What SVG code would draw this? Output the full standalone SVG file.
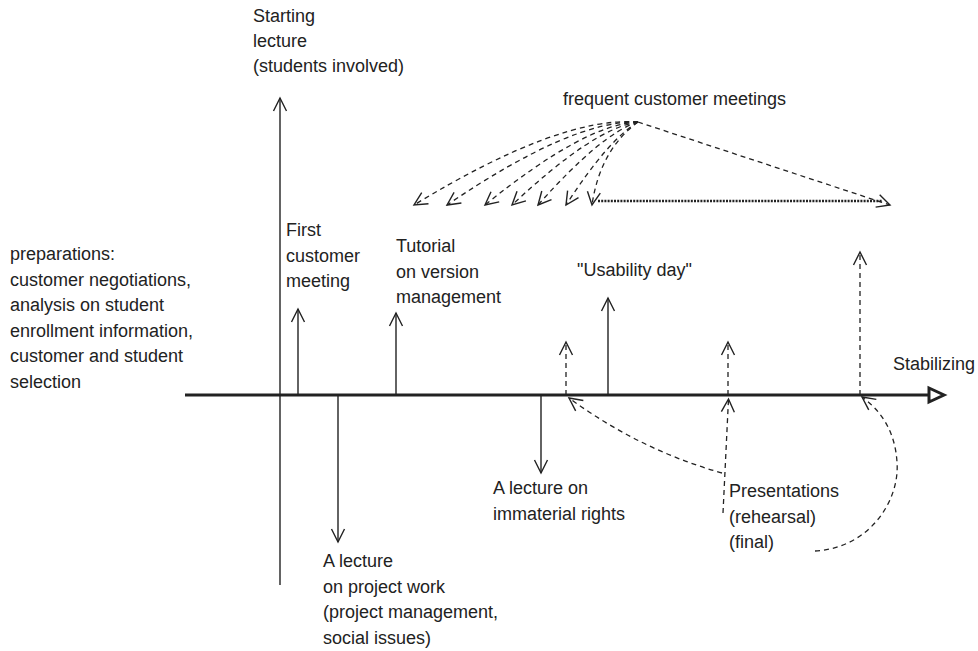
<svg xmlns="http://www.w3.org/2000/svg" width="978" height="651" viewBox="0 0 978 651">
  <style>
    text { font-family: "Liberation Sans", Arial, Helvetica, sans-serif; font-size: 18px; fill: #222; }
    .solid { fill: none; stroke: #222; stroke-width: 1.4; }
    .dash { fill: none; stroke: #222; stroke-width: 1.3; stroke-dasharray: 5 4; }
    .axis { fill: none; stroke: #222; stroke-width: 3; }
    .dots { fill: none; stroke: #222; stroke-width: 2.6; stroke-dasharray: 2 1.2; }
  </style>
  <defs>
    <marker id="vee" viewBox="-1 -1 16 16" refX="13" refY="7" markerWidth="16" markerHeight="16" orient="auto" markerUnits="userSpaceOnUse">
      <path d="M0,0.5 L13,7 L0,13.5" fill="none" stroke="#222" stroke-width="1.4"/>
    </marker>
  </defs>

  <!-- time axis -->
  <g id="axis">
    <line class="axis" x1="185" y1="395" x2="929" y2="395"/>
    <polygon points="929,388 944,395 929,402" fill="#fff" stroke="#222" stroke-width="3" stroke-linejoin="miter"/>
    <text x="893" y="370">Stabilizing</text>
  </g>

  <!-- left-hand preparations text -->
  <g id="preparations">
    <text x="10" y="260">preparations:</text>
    <text x="10" y="285.5">customer negotiations,</text>
    <text x="10" y="311">analysis on student</text>
    <text x="10" y="336.5">enrollment information,</text>
    <text x="10" y="362">customer and student</text>
    <text x="10" y="387.5">selection</text>
  </g>

  <g id="starting-lecture">
    <text x="253" y="22">Starting</text>
    <text x="253" y="47">lecture</text>
    <text x="253" y="72">(students involved)</text>
  </g>

  <g id="first-meeting">
    <text x="286" y="236">First</text>
    <text x="286" y="261.5">customer</text>
    <text x="286" y="287">meeting</text>
  </g>

  <g id="tutorial">
    <text x="396" y="252">Tutorial</text>
    <text x="396" y="277.5">on version</text>
    <text x="396" y="303">management</text>
  </g>

  <g id="usability-day">
    <text x="577" y="276">"Usability day"</text>
  </g>

  <g id="frequent-meetings">
    <text x="563" y="105">frequent customer meetings</text>
  </g>

  <g id="project-work-lecture">
    <text x="323" y="567">A lecture</text>
    <text x="323" y="592.5">on project work</text>
    <text x="323" y="618">(project management,</text>
    <text x="323" y="643.5">social issues)</text>
  </g>

  <g id="immaterial-rights">
    <text x="493" y="494">A lecture on</text>
    <text x="493" y="519.5">immaterial rights</text>
  </g>

  <g id="presentations">
    <text x="729" y="497">Presentations</text>
    <text x="729" y="522.5">(rehearsal)</text>
    <text x="729" y="548">(final)</text>
  </g>

  <!-- connectors -->
  <g id="connectors">
    <!-- solid event arrows -->
    <line class="solid" x1="280" y1="585" x2="280" y2="98" marker-end="url(#vee)"/>
    <line class="solid" x1="298" y1="395" x2="298" y2="309" marker-end="url(#vee)"/>
    <line class="solid" x1="396" y1="395" x2="396" y2="313" marker-end="url(#vee)"/>
    <line class="solid" x1="608" y1="395" x2="608" y2="298" marker-end="url(#vee)"/>
    <line class="solid" x1="338" y1="395" x2="338" y2="542" marker-end="url(#vee)"/>
    <line class="solid" x1="541" y1="395" x2="541" y2="473" marker-end="url(#vee)"/>

    <!-- dashed customer meetings on the axis -->
    <line class="dash" x1="566" y1="395" x2="566" y2="342" marker-end="url(#vee)"/>
    <line class="dash" x1="728" y1="395" x2="728" y2="342" marker-end="url(#vee)"/>
    <line class="dash" x1="860" y1="395" x2="860" y2="252" marker-end="url(#vee)"/>

    <!-- fan of frequent meetings -->
    <path class="dash" d="M638,122 Q560,116 414,205" marker-end="url(#vee)"/>
    <path class="dash" d="M638,122 Q572,120 447,205" marker-end="url(#vee)"/>
    <path class="dash" d="M638,122 Q585,124 485,205" marker-end="url(#vee)"/>
    <path class="dash" d="M638,122 Q594,128 512,205" marker-end="url(#vee)"/>
    <path class="dash" d="M638,122 Q602,133 538,205" marker-end="url(#vee)"/>
    <path class="dash" d="M638,122 Q608,140 566,205" marker-end="url(#vee)"/>
    <path class="dash" d="M638,122 Q600,150 592,205" marker-end="url(#vee)"/>
    <line class="dash" x1="638" y1="122" x2="890" y2="205" marker-end="url(#vee)"/>
    <line class="dots" x1="598" y1="201" x2="882" y2="201"/>

    <!-- presentations to the axis -->
    <path class="dash" d="M722,473 Q640,450 569,398" marker-end="url(#vee)"/>
    <path class="dash" d="M723,513 L728.5,399" marker-end="url(#vee)"/>
    <path class="dash" d="M815,551 C870,548 900,500 897,462 C895,430 880,410 862,397" marker-end="url(#vee)"/>
  </g>
</svg>
